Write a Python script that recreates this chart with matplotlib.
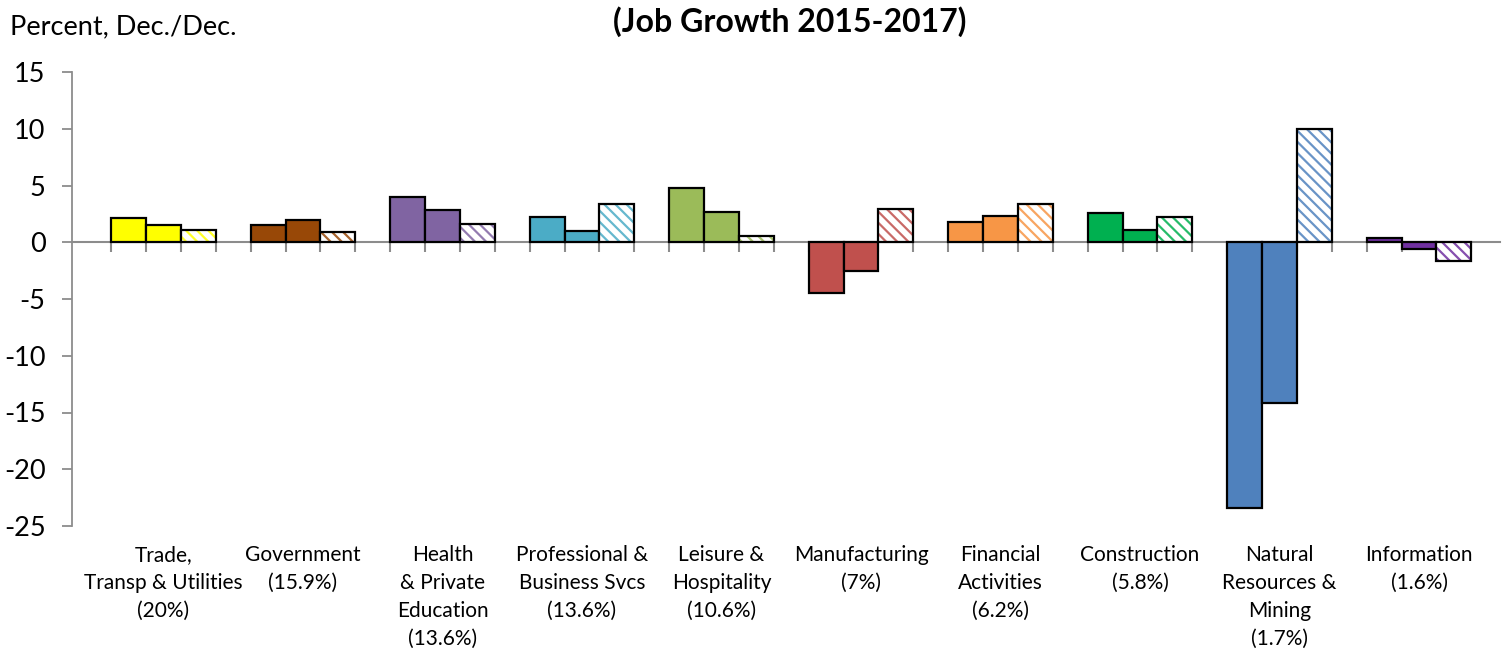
import matplotlib
matplotlib.use("Agg")
import matplotlib.pyplot as plt
import matplotlib.transforms as mtransforms

categories = ["Trade,\nTransp & Utilities\n(20%)", "Government\n(15.9%)",
              "Health\n& Private\nEducation\n(13.6%)", "Professional &\nBusiness Svcs\n(13.6%)",
              "Leisure &\nHospitality\n(10.6%)", "Manufacturing\n(7%)",
              "Financial\nActivities\n(6.2%)", "Construction\n(5.8%)",
              "Natural\nResources &\nMining\n(1.7%)", "Information\n(1.6%)"]
series1 = [2.1, 1.5, 4.0, 2.2, 4.75, -4.5, 1.75, 2.6, -23.4, 0.35]
series2 = [1.5, 2.0, 2.85, 0.95, 2.7, -2.55, 2.3, 1.05, -14.15, -0.6]
series3 = [1.05, 0.9, 1.65, 3.35, 0.55, 2.95, 3.4, 2.2, 10.0, -1.65]
colors = ["#FFFF00", "#984807", "#8064A2", "#4BACC6", "#9BBB59",
          "#C0504D", "#F79646", "#00B050", "#4F81BD", "#7030A0"]
yticks = [15, 10, 5, 0, -5, -10, -15, -20, -25]

plt.rcParams['font.family'] = ['Lato', 'DejaVu Sans']
plt.rcParams['hatch.linewidth'] = 1.6

W, H = 1504, 652
fig = plt.figure(figsize=(W / 100, H / 100), dpi=100)
ax = fig.add_axes([72 / W, 1 - 526 / H, (1500 - 72) / W, (526 - 72) / H])

bw = 0.25
n = len(categories)
for i in range(n):
    c = colors[i]
    ax.bar(i - bw, series1[i], bw, color=c, edgecolor="black", linewidth=1.6, zorder=3)
    ax.bar(i, series2[i], bw, color=c, edgecolor="black", linewidth=1.6, zorder=3)
    ax.bar(i + bw, series3[i], bw, color="white", edgecolor=c, hatch="\\\\\\", linewidth=0,
           alpha=0.85, zorder=3)
    ax.bar(i + bw, series3[i], bw, color="none", edgecolor="black", linewidth=1.6, zorder=4)

ax.set_xlim(-0.656, -0.656 + 1428 / 139.5)
ax.set_ylim(-25, 15)
ax.set_yticks(yticks)
ax.set_yticklabels([str(v) for v in yticks], fontsize=19.5)

gray = "#8C8C8C"
ax.spines['top'].set_visible(False)
ax.spines['right'].set_visible(False)
ax.spines['left'].set_color(gray)
ax.spines['left'].set_linewidth(1.3)
ax.spines['bottom'].set_position(('data', 0))
ax.spines['bottom'].set_color(gray)
ax.spines['bottom'].set_linewidth(1.5)
ax.spines['bottom'].set_zorder(2)

edges = []
for i in range(n):
    edges += [i - 1.5 * bw, i - 0.5 * bw, i + 0.5 * bw, i + 1.5 * bw]
ax.set_xticks(edges)
ax.set_xticklabels([""] * len(edges))
ax.tick_params(axis='x', direction='out', length=7, width=1.5, color=gray)
ax.tick_params(axis='y', direction='out', length=7, width=1.3, color=gray, pad=12)

trans = mtransforms.blended_transform_factory(ax.transData, fig.transFigure)
for i, lab in enumerate(categories):
    ax.text(i, 1 - 545 / H, lab, transform=trans, ha='center', va='top',
            fontsize=15, linespacing=1.5, clip_on=False)

fig.text(10 / W, 1 - 27 / H, "Percent, Dec./Dec.", fontsize=19.5, ha='left', va='center')
fig.text(790 / W, 1 - 22 / H, "(Job Growth 2015-2017)", fontsize=23, fontweight='bold',
         ha='center', va='center')

fig.savefig("out.png", dpi=100)
